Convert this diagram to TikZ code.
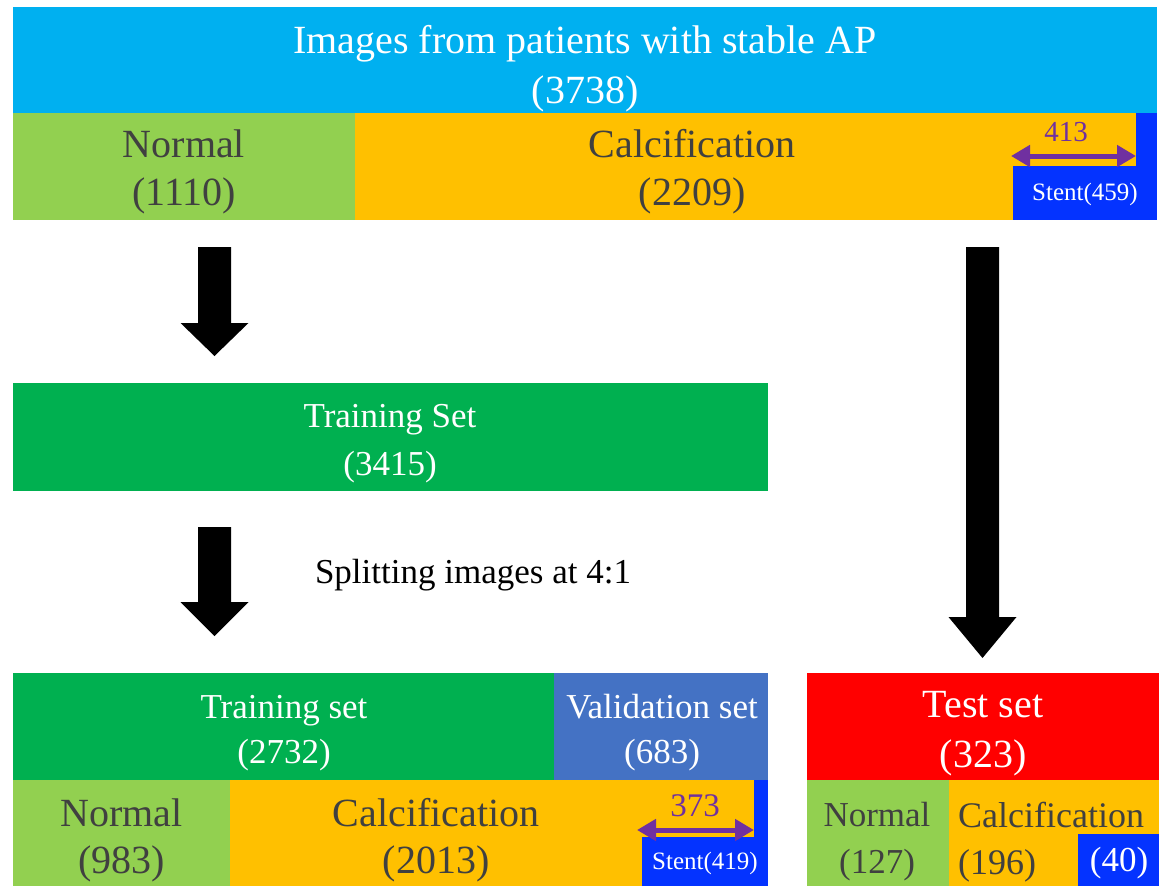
\documentclass[tikz,border=0pt]{standalone}
\usepackage{fontspec}
\setmainfont{Liberation Serif}
\usetikzlibrary{fit,calc,arrows.meta}

\definecolor{topblue}{HTML}{00B0F0}
\definecolor{lgreen}{HTML}{92D050}
\definecolor{amber}{HTML}{FFC000}
\definecolor{stentblue}{HTML}{0433FF}
\definecolor{dgreen}{HTML}{00B050}
\definecolor{valblue}{HTML}{4472C4}
\definecolor{testred}{HTML}{FF0000}
\definecolor{txtgray}{HTML}{404040}
\definecolor{violet}{HTML}{7030A0}

\tikzset{
  cell/.style={inner sep=0pt, outer sep=0pt, draw=none},
  lbl/.style={inner sep=0pt, align=center},
  big/.style={font=\fontsize{40}{48}\selectfont},
  mid/.style={font=\fontsize{35}{46}\selectfont},
  small/.style={font=\fontsize{25}{30}\selectfont},
  dimarrow/.style={draw=violet, line width=5pt, {Triangle[length=19pt,width=21pt]}-{Triangle[length=19pt,width=21pt]}},
  blockarrow/.style={fill=black}
}

% downward block arrow from #1 to the tip #2, head length #3
\newcommand\blockdown[3]{%
  \fill[blockarrow] let \p1=(#1), \p2=(#2) in
    (\x1-16.5pt,\y1) -- (\x1+16.5pt,\y1) -- (\x1+16.5pt,\y2+#3) -- (\x1+34pt,\y2+#3)
    -- (\x2,\y2) -- (\x1-34pt,\y2+#3) -- (\x1-16.5pt,\y2+#3) -- cycle;}

\begin{document}
\begin{tikzpicture}[x=1pt,y=-1pt]
\useasboundingbox (0,0) rectangle (1163,886);

% ---- all images ----
\node[cell, fill=topblue, fit={(13,7) (1157,113)}] (all) {};
\node[cell, fill=lgreen, fit={(13,113) (355,220)}] (normA) {};
\node[cell, fill=amber, fit={(355,113) (1157,220)}] (calcA) {};
\node[cell, fill=stentblue, fit={(1136,113) (1157,166)}] (stripA) {};
\node[cell, fill=stentblue, fit={(1013,166) (1157,220)}] (stentA) {};

\node[lbl, big, text=white, font=\fontsize{40}{50}\selectfont] (allT) at (585,68.5) {Images from patients with stable AP\\(3738)};
\node[lbl, big, text=txtgray] (normAT) at (184,172) {Normal\\(1110)};
\node[lbl, big, text=txtgray] (calcAT) at (692,172) {Calcification\\(2209)};
\node[lbl, small, text=white] (stentAT) at (1085,194) {Stent(459)};
\coordinate (dimAl) at (1011,156);
\coordinate (dimAr) at (1136,156);
\draw[dimarrow] (dimAl) -- (dimAr);
\node[lbl, text=violet, font=\fontsize{29}{34}\selectfont] (dimAT) at (1066,132) {413};

% ---- training set ----
\node[cell, fill=dgreen, fit={(13,383) (768,491)}] (train) {};
\node[lbl, mid, text=white, font=\fontsize{35}{48}\selectfont] (trainT) at (390,443.5) {Training Set\\(3415)};

\node[lbl, mid, text=black] (splitT) at (473,575) {Splitting images at 4:1};

% ---- split ----
\node[cell, fill=dgreen, fit={(13,673) (554,780)}] (trainB) {};
\node[cell, fill=valblue, fit={(554,673) (768,780)}] (valB) {};
\node[cell, fill=lgreen, fit={(13,780) (230,886)}] (normB) {};
\node[cell, fill=amber, fit={(230,780) (768,886)}] (calcB) {};
\node[cell, fill=stentblue, fit={(754,780) (768,837)}] (stripB) {};
\node[cell, fill=stentblue, fit={(642,837) (768,886)}] (stentB) {};

\node[lbl, mid, text=white, font=\fontsize{35}{45}\selectfont] (trainBT) at (284,733) {Training set\\(2732)};
\node[lbl, mid, text=white, font=\fontsize{35}{45}\selectfont] (valBT) at (662,733) {Validation set\\(683)};
\node[lbl, big, text=txtgray, font=\fontsize{40}{47}\selectfont] (normBT) at (121.5,840) {Normal\\(983)};
\node[lbl, big, text=txtgray, font=\fontsize{40}{47}\selectfont] (calcBT) at (436,840) {Calcification\\(2013)};
\node[lbl, small, text=white] (stentBT) at (705,863) {Stent(419)};
\coordinate (dimBl) at (637,830);
\coordinate (dimBr) at (754,830);
\draw[dimarrow] (dimBl) -- (dimBr);
\node[lbl, text=violet, font=\fontsize{33}{38}\selectfont] (dimBT) at (695,806) {373};

% ---- test set ----
\node[cell, fill=testred, fit={(807,673) (1159,780)}] (test) {};
\node[cell, fill=lgreen, fit={(807,780) (949,886)}] (normC) {};
\node[cell, fill=amber, fit={(949,780) (1159,886)}] (calcC) {};
\node[cell, fill=stentblue, fit={(1078,834) (1159,886)}] (stentC) {};

\node[lbl, big, text=white, font=\fontsize{40}{50}\selectfont] (testT) at (983,734) {Test set\\(323)};
\node[lbl, mid, text=txtgray, font=\fontsize{35}{47}\selectfont] (normCT) at (877,842) {Normal\\(127)};
\node[lbl, mid, text=txtgray, font=\fontsize{36}{47}\selectfont, align=left, anchor=west] (calcCT) at (958,842) {Calcification\\(196)};
\node[lbl, mid, text=white] (stentCT) at (1119,863) {(40)};

% ---- flow arrows ----
\coordinate (f1s) at (214.5,247);
\coordinate (f1e) at (214.5,356);
\coordinate (f2s) at (214.5,527);
\coordinate (f2e) at (214.5,636);
\coordinate (f3s) at (982.5,247);
\coordinate (f3e) at (982.5,658);
\blockdown{f1s}{f1e}{33pt}
\blockdown{f2s}{f2e}{34pt}
\blockdown{f3s}{f3e}{41pt}
\end{tikzpicture}
\end{document}
